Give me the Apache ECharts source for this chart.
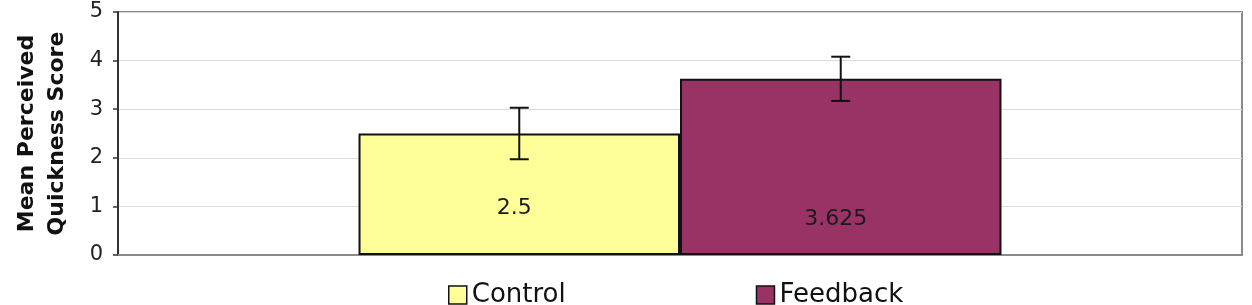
<!DOCTYPE html>
<html>
<head>
<meta charset="utf-8">
<style>
  html, body { margin: 0; padding: 0; background: #fff; }
  #main { width: 1252px; height: 305px; }
</style>
<script src="https://cdn.jsdelivr.net/npm/echarts@6/dist/echarts.min.js"></script>
</head>
<body>
<div id="main"></div>
<script>
// data
var groups = ['Control', 'Feedback'];
var means = [2.5, 3.625];
var errLow = [1.97, 3.17];
var errHigh = [3.03, 4.08];
var yTicks = [0, 1, 2, 3, 4, 5];

var colors = ['#FFFF99', '#993366'];
var catGap = 0.428;      // share of the band left empty
var labelDist = [36, 25]; // value labels sit low in each bar

var myChart = echarts.init(document.getElementById('main'));

var barSeries = groups.map(function (name, i) {
    return {
        name: name,
        type: 'bar',
        barGap: 0,
        barCategoryGap: (catGap * 100) + '%',
        itemStyle: { color: colors[i], borderColor: '#111', borderWidth: 2 },
        label: {
            show: true,
            position: 'insideBottom',
            distance: labelDist[i],
            offset: [-5, 0],
            fontFamily: 'DejaVu Sans',
            fontSize: 22,
            color: '#1a1a1a'
        },
        data: [means[i]],
        z: 2
    };
});

var errData = groups.map(function (name, i) {
    return [0, errLow[i], errHigh[i], i];
});

var option = {
    animation: false,
    backgroundColor: '#fff',
    grid: {
        left: 118, right: 10, top: 12, bottom: 50,
        containLabel: false,
        outerBoundsMode: 'none',
        show: true, borderColor: '#8a8a8a', borderWidth: 2
    },
    legend: {
        data: groups,
        left: 448,
        top: 282,
        padding: 0,
        itemWidth: 18,
        itemHeight: 18,
        itemGap: 190,
        icon: 'rect',
        itemStyle: { borderColor: '#111', borderWidth: 1.5 },
        textStyle: { fontFamily: 'DejaVu Sans', fontSize: 26, color: '#111' }
    },
    xAxis: {
        type: 'category',
        data: [''],
        axisLine: { lineStyle: { color: '#8a8a8a', width: 2 } },
        axisTick: { show: false },
        axisLabel: { show: false }
    },
    yAxis: {
        type: 'value',
        min: yTicks[0],
        max: yTicks[yTicks.length - 1],
        interval: 1,
        name: 'Mean Perceived\nQuickness Score',
        nameLocation: 'middle',
        nameGap: 46,
        nameTextStyle: {
            fontFamily: 'DejaVu Sans', fontWeight: 'bold', fontSize: 22,
            lineHeight: 30, color: '#111'
        },
        axisLine: { show: true, lineStyle: { color: '#333', width: 2 } },
        axisTick: { show: true, length: 5, lineStyle: { color: '#333', width: 1.5 } },
        axisLabel: {
            margin: 15,
            fontFamily: 'DejaVu Sans', fontSize: 21, color: '#222'
        },
        splitLine: { lineStyle: { color: '#dadada', width: 1 } }
    },
    series: barSeries.concat([{
        type: 'custom',
        name: 'err',
        data: errData,
        z: 5,
        renderItem: function (params, api) {
            var band = api.size([1, 0])[0];
            var barW = band * (1 - catGap) / 2;
            var which = api.value(3);
            var lo = api.coord([api.value(0), api.value(1)]);
            var hi = api.coord([api.value(0), api.value(2)]);
            var x = lo[0] + (which === 0 ? -0.5 : 0.5) * barW;
            var cap = 9.5;
            var st = { stroke: '#111', lineWidth: 2 };
            return {
                type: 'group',
                children: [
                    { type: 'line', shape: { x1: x, y1: lo[1], x2: x, y2: hi[1] }, style: st },
                    { type: 'line', shape: { x1: x - cap, y1: lo[1], x2: x + cap, y2: lo[1] }, style: st },
                    { type: 'line', shape: { x1: x - cap, y1: hi[1], x2: x + cap, y2: hi[1] }, style: st }
                ]
            };
        }
    }])
};

myChart.setOption(option);
</script>
</body>
</html>
